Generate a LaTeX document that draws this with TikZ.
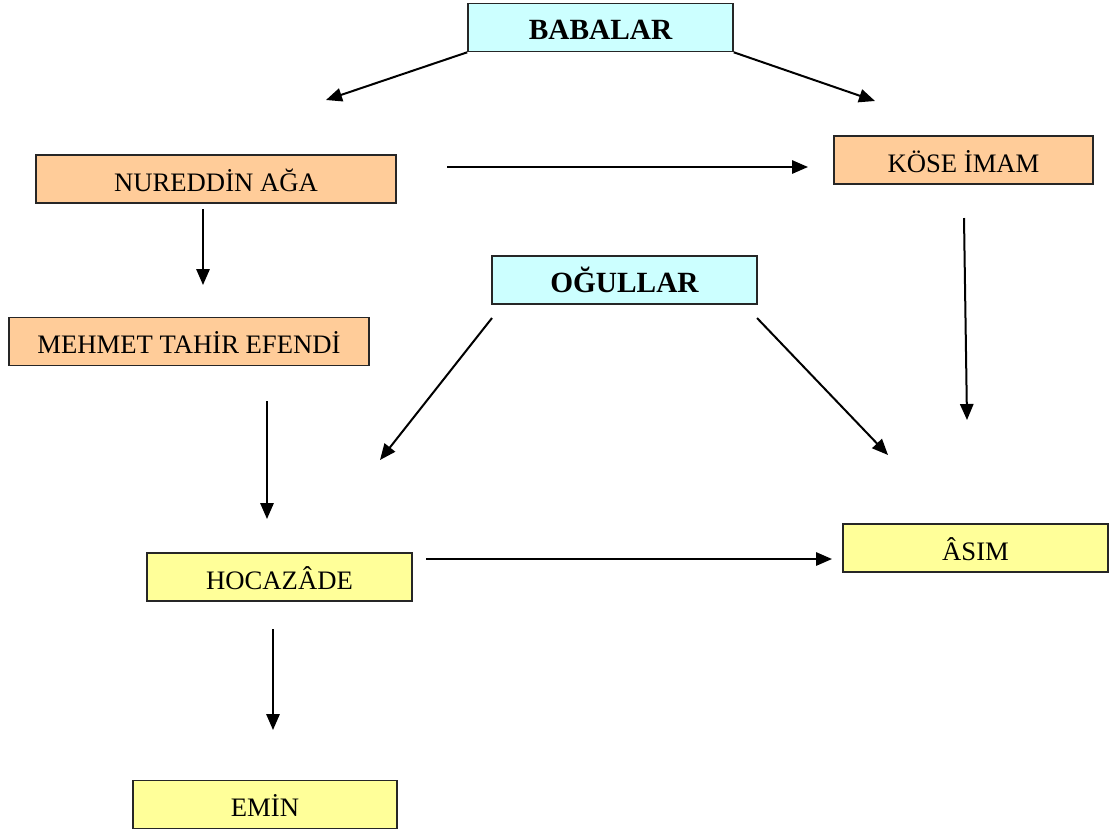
\documentclass[tikz,border=0pt]{standalone}
\usepackage{fontspec}
\setmainfont{Liberation Serif}
\usetikzlibrary{arrows.meta}
\definecolor{babacyan}{HTML}{CCFFFF}
\definecolor{babaorange}{HTML}{FFCC99}
\definecolor{ogulyellow}{HTML}{FFFF99}
\begin{document}
\begin{tikzpicture}[x=0.75pt,y=-0.75pt]
    \tikzstyle{kutu}=[draw=black!85,line width=1.2pt,inner sep=0pt,minimum height=36pt,text height=18pt,text depth=0pt,font=\fontsize{20}{22}\selectfont]
    \tikzstyle{baslik}=[kutu,fill=babacyan,minimum width=198.75pt,font=\fontsize{22}{24}\selectfont\bfseries]
    \tikzstyle{ok}=[-{Triangle[length=12pt,width=10pt]},line width=1.5pt]

    \useasboundingbox (0,0) rectangle (1112,829);

    % Headings
    \node[baslik] (babalar) at (600.5,27.5) {BABALAR};
    \node[baslik] (ogullar) at (624.5,280) {OĞULLAR};

    % Fathers
    \node[kutu,fill=babaorange,minimum width=270pt] (nureddin) at (216,179) {NUREDDİN AĞA};
    \node[kutu,fill=babaorange,minimum width=194.25pt] (kose) at (963.5,160) {KÖSE İMAM};
    \node[kutu,fill=babaorange,minimum width=270pt] (mehmet) at (189,341.5) {MEHMET TAHİR EFENDİ};

    % Sons
    \node[kutu,fill=ogulyellow,minimum width=198.75pt] (hocazade) at (279.5,577) {HOCAZÂDE};
    \node[kutu,fill=ogulyellow,minimum width=198.75pt] (asim) at (975.5,548) {ÂSIM};
    \node[kutu,fill=ogulyellow,minimum width=198pt] (emin) at (265,804.5) {EMİN};

    % Arrow ends
    \coordinate (b-l) at (326,100);
    \coordinate (b-r) at (875,101);
    \coordinate (n-r1) at (447,167);
    \coordinate (n-r2) at (808,167);
    \coordinate (n-d1) at (203,209);
    \coordinate (n-d2) at (203,285);
    \coordinate (k-d1) at (964,218);
    \coordinate (k-d2) at (967,420);
    \coordinate (o-l1) at (492,318);
    \coordinate (o-l2) at (380,460);
    \coordinate (o-r1) at (757,318);
    \coordinate (o-r2) at (888,455);
    \coordinate (m-d1) at (267,401);
    \coordinate (m-d2) at (267,519);
    \coordinate (h-r1) at (426,559);
    \coordinate (h-r2) at (832,559);
    \coordinate (h-d1) at (273,629);
    \coordinate (h-d2) at (273,730);

    % Arrows
    \draw[ok] (babalar.south west) -- (b-l);
    \draw[ok] (babalar.south east) -- (b-r);
    \foreach \src/\dst in {n-r1/n-r2,n-d1/n-d2,k-d1/k-d2,o-l1/o-l2,o-r1/o-r2,m-d1/m-d2,h-r1/h-r2,h-d1/h-d2}
        \draw[ok] (\src) -- (\dst);

\end{tikzpicture}
\end{document}
